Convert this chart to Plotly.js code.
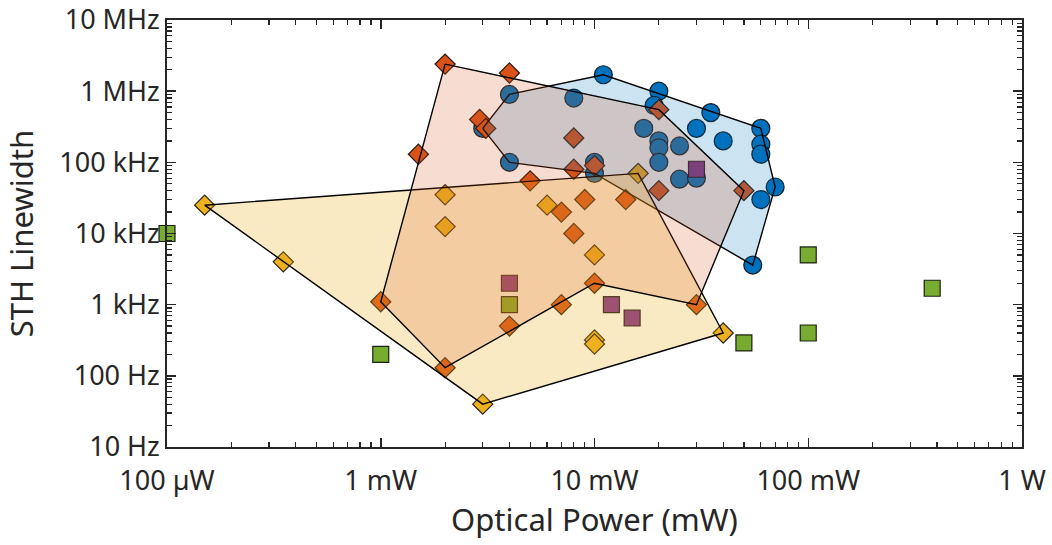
<!DOCTYPE html>
<html>
<head>
<meta charset="utf-8">
<script src="https://cdn.plot.ly/plotly-3.0.1.min.js"></script>
<style>html,body{margin:0;padding:0;background:#fff;}#chart{width:1052px;height:545px;}</style>
</head>
<body>
<div id="chart"></div>
<script>
// ---- Data (Optical power in mW, STH linewidth in Hz) ----
var blueX = [3, 4, 8, 11, 4, 10, 10, 20, 19, 17, 20, 20, 20, 25, 25, 30, 30, 35, 40, 60, 60, 60, 70, 60, 55];
var blueY = [3e5, 9e5, 8e5, 1.7e6, 1e5, 1e5, 7e4, 1e6, 6.3e5, 3e5, 2e5, 1.6e5, 1e5, 1.7e5, 5.8e4, 6e4, 3e5, 5e5, 2e5, 3e5, 1.8e5, 1.3e5, 4.5e4, 3e4, 3.6e3];
var blueHullX = [3, 4, 11, 60, 70, 55, 10, 4, 3];
var blueHullY = [3e5, 9e5, 1.7e6, 3e5, 4.5e4, 3.6e3, 7e4, 1e5, 3e5];

var redX = [2, 4, 2.9, 3.1, 8, 8, 10, 5, 1.5, 20, 20, 50, 7, 8, 9, 14, 10, 7, 4, 30, 2, 1];
var redY = [2.4e6, 1.8e6, 4e5, 3e5, 2.2e5, 8e4, 9e4, 5.5e4, 1.3e5, 5.5e5, 4e4, 4e4, 2e4, 1e4, 3e4, 3e4, 2e3, 1e3, 500, 1e3, 130, 1.1e3];
var redHullX = [2, 20, 50, 30, 10, 2, 1, 2];
var redHullY = [2.4e6, 5.5e5, 4e4, 1e3, 2e3, 130, 1.1e3, 2.4e6];

var yellowX = [0.15, 0.35, 2, 2, 6, 10, 10, 10, 3, 40, 16];
var yellowY = [2.5e4, 4e3, 3.5e4, 1.25e4, 2.5e4, 5e3, 320, 280, 40, 400, 7e4];
var yellowHullX = [0.15, 16, 40, 3, 0.15];
var yellowHullY = [2.5e4, 7e4, 400, 40, 2.5e4];

var greenX = [0.1, 1, 4, 50, 100, 100, 380];
var greenY = [1e4, 200, 1e3, 290, 400, 5e3, 1.7e3];

var purpleX = [4, 12, 15, 30];
var purpleY = [2e3, 1e3, 650, 8e4];

var xTickVals = [0.1, 1, 10, 100, 1000];
var xTickText = ['100 \u00b5W', '1 mW', '10 mW', '100 mW', '1 W'];
var yTickVals = [10, 100, 1e3, 1e4, 1e5, 1e6, 1e7];
var yTickText = ['10 Hz', '100 Hz', '1 kHz', '10 kHz', '100 kHz', '1 MHz', '10 MHz'];

// minor tick positions (2..9 within each decade)
function minorTicks(lo, hi) {
  var out = [];
  for (var d = lo; d < hi; d++) {
    for (var k = 2; k <= 9; k++) out.push(k * Math.pow(10, d));
  }
  return out;
}
var xMinor = minorTicks(-1, 3);
var yMinor = minorTicks(1, 7);

var edge = {color: 'rgba(0,0,0,0.85)', width: 1.2};
var axisColor = '#262626';
var fontFam = '"Noto Sans", "Open Sans", sans-serif';

function markerTrace(x, y, symbol, size, color) {
  return {
    x: x, y: y, type: 'scatter', mode: 'markers', cliponaxis: false,
    marker: {symbol: symbol, size: size, color: color, line: edge},
    hoverinfo: 'skip'
  };
}
function hullTrace(x, y, fill) {
  return {
    x: x, y: y, type: 'scatter', mode: 'lines', fill: 'toself',
    fillcolor: fill, line: {color: '#000', width: 1.4},
    hoverinfo: 'skip'
  };
}

var traces = [
  markerTrace(blueX, blueY, 'circle', 18, '#0072BD'),
  markerTrace(redX, redY, 'diamond', 15.5, '#D95319'),
  markerTrace(yellowX, yellowY, 'diamond', 15.5, '#EDB120'),
  markerTrace(greenX, greenY, 'square', 16, '#77AC30'),
  markerTrace(purpleX, purpleY, 'square', 16, '#7E2F8E'),
  hullTrace(blueHullX, blueHullY, 'rgba(0,114,189,0.2)'),
  hullTrace(yellowHullX, yellowHullY, 'rgba(237,177,32,0.27)'),
  hullTrace(redHullX, redHullY, 'rgba(217,83,25,0.2)')
];

function axis(range, tv, tt, minorVals, title, standoff, labelOff) {
  return {
    type: 'log', range: range, autorange: false,
    tickmode: 'array', tickvals: tv, ticktext: tt,
    ticks: 'inside', ticklen: 9, tickwidth: 1.5, tickcolor: axisColor,
    ticklabelstandoff: labelOff,
    showline: true, linecolor: axisColor, linewidth: 1.8, mirror: 'ticks',
    showgrid: false, zeroline: false,
    tickfont: {family: fontFam, size: 27, color: axisColor},
    minor: {ticks: 'inside', ticklen: 5, tickwidth: 1.2, tickcolor: axisColor,
            tickmode: 'array', tickvals: minorVals, showgrid: false},
    title: {text: title, font: {family: fontFam, size: 31, color: axisColor}, standoff: standoff}
  };
}

var layout = {
  width: 1052, height: 545,
  margin: {l: 167, r: 30, t: 20, b: 98},
  paper_bgcolor: '#ffffff', plot_bgcolor: '#ffffff',
  showlegend: false,
  xaxis: axis([-1, 3], xTickVals, xTickText, xMinor, 'Optical Power (mW)', 8, 9),
  yaxis: axis([1, 7], yTickVals, yTickText, yMinor, 'STH Linewidth', 16, 0)
};

Plotly.newPlot('chart', traces, layout, {staticPlot: true, displayModeBar: false});
</script>
</body>
</html>
